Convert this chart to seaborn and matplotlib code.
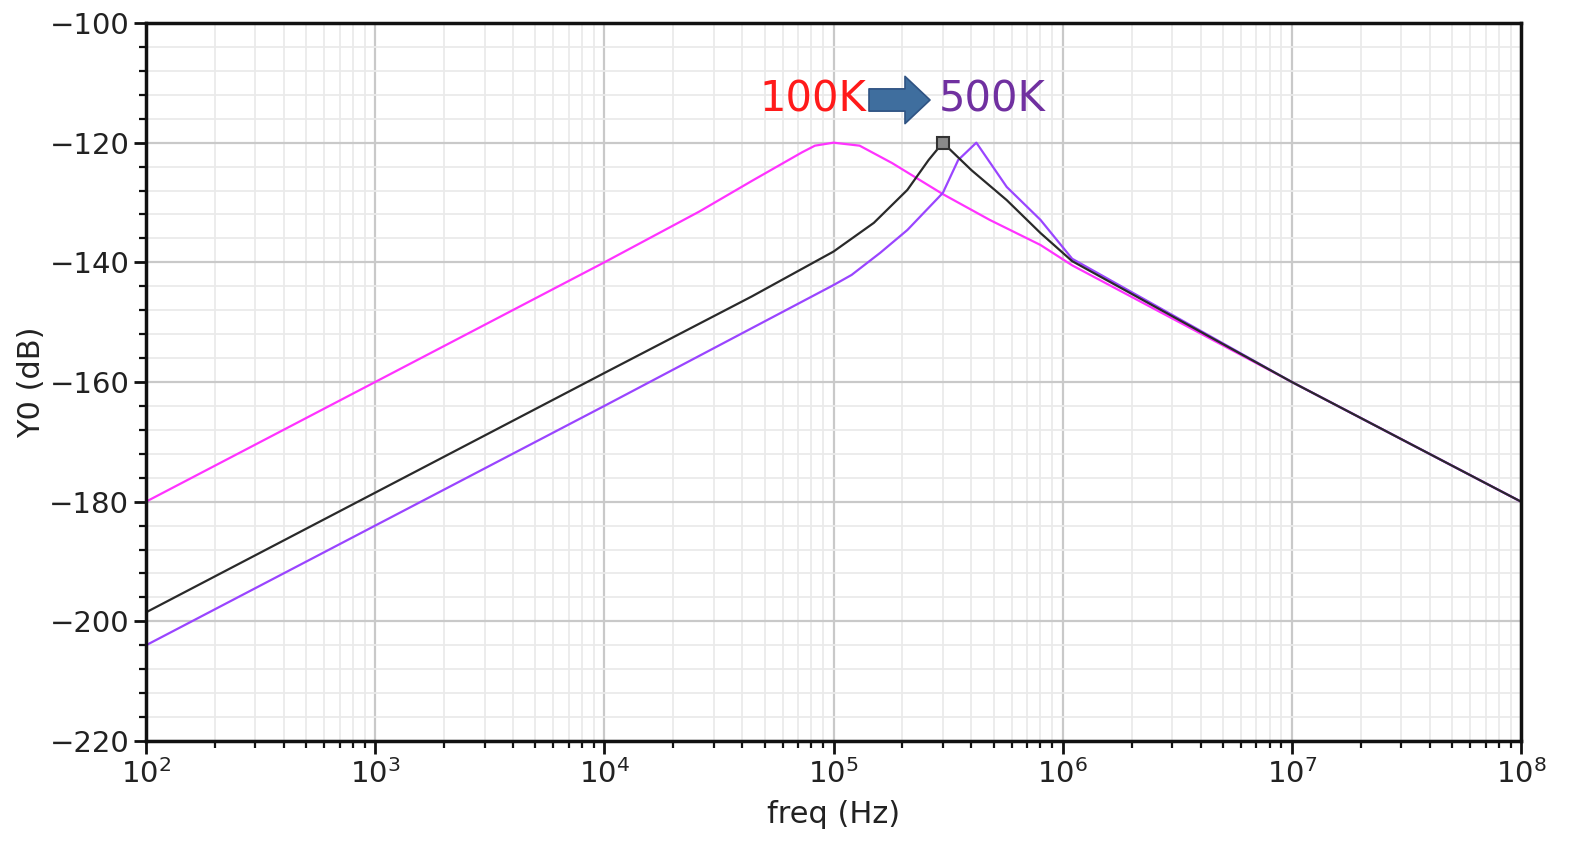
import numpy as np
import pandas as pd
import matplotlib
matplotlib.use("Agg")
import matplotlib.pyplot as plt
import matplotlib.ticker as mticker
import seaborn as sns

# ---- data ----
freq_100k = [1e2, 1e3, 1e4, 2.6e4, 4.4e4, 7.3e4, 8.3e4, 1e5, 1.3e5, 1.8e5, 3e5, 4.8e5, 8e5, 1.1e6, 1e7, 1e8]
db_100k = [-180, -160, -140, -131.5, -126.4, -121.6, -120.5, -120, -120.5, -123.4, -128.6, -132.9, -137.1, -140.5, -160, -180]

freq_300k = [1e2, 1e3, 1e4, 4.4e4, 1e5, 1.5e5, 2.1e5, 2.6e5, 3e5, 4e5, 5.7e5, 8e5, 1.1e6, 1e7, 1e8]
db_300k = [-198.5, -178.5, -158.5, -145.7, -138.2, -133.4, -127.9, -122.9, -120, -124.6, -129.6, -135.1, -139.8, -160, -180]

freq_500k = [1e2, 1e3, 1e4, 1e5, 1.2e5, 1.6e5, 2.1e5, 3e5, 3.5e5, 4.2e5, 5.7e5, 8e5, 1.1e6, 1e7, 1e8]
db_500k = [-204, -184, -164, -143.8, -142.1, -138.4, -134.6, -128.4, -122.9, -120, -127.4, -132.9, -139.4, -160, -180]

series_names = ["100K", "300K", "500K"]
series_colors = ["#ff33ff", "#2a2a2a", "#9a45ff"]
draw_order = ["100K", "500K", "300K"]
peak_marker = (3e5, -120)

xticks = [1e2, 1e3, 1e4, 1e5, 1e6, 1e7, 1e8]
yticks = [-100, -120, -140, -160, -180, -200, -220]

df = pd.concat([
    pd.DataFrame({"freq": freq_100k, "db": db_100k, "series": series_names[0]}),
    pd.DataFrame({"freq": freq_300k, "db": db_300k, "series": series_names[1]}),
    pd.DataFrame({"freq": freq_500k, "db": db_500k, "series": series_names[2]}),
], ignore_index=True)

sns.set_style("white")
plt.rcParams['font.family'] = ['DejaVu Sans']

fig = plt.figure(figsize=(15.74, 8.42), dpi=100)
ax = fig.add_axes([146/1574, 1-741/842, (1521-146)/1574, (741-23)/842])

sns.lineplot(data=df, x="freq", y="db", hue="series", hue_order=draw_order,
             palette=dict(zip(series_names, series_colors)),
             ax=ax, legend=False, linewidth=1.6, sort=False, estimator=None)

ax.set_xscale("log")
ax.set_xlim(1e2, 1e8)
ax.set_ylim(-220, -100)
ax.set_xticks(xticks)
ax.xaxis.set_major_formatter(mticker.LogFormatterMathtext())
ax.xaxis.set_minor_locator(mticker.LogLocator(base=10, subs=np.arange(2, 10), numticks=100))
ax.xaxis.set_minor_formatter(mticker.NullFormatter())
ax.set_yticks(yticks)
ax.yaxis.set_minor_locator(mticker.MultipleLocator(4))

ax.grid(which="major", color="#c9c9c9", linewidth=1.6)
ax.grid(which="minor", color="#eaeaea", linewidth=1.3)
ax.set_axisbelow(True)

for s in ax.spines.values():
    s.set_color("#111111")
    s.set_linewidth(2.5)
    s.set_visible(True)

ax.tick_params(axis="both", which="major", direction="out", length=9, width=2, color="#111111",
               labelsize=21, labelcolor="#222222", left=True, bottom=True)
ax.tick_params(axis="both", which="minor", direction="out", length=5, width=1.6, color="#111111",
               left=True, bottom=True)
ax.tick_params(axis="y", pad=3)
ax.tick_params(axis="x", pad=4)

ax.set_xlabel("freq (Hz)", fontsize=22, color="#222222", labelpad=8)
ax.set_ylabel("Y0 (dB)", fontsize=22, color="#222222", labelpad=2)

# peak marker on the middle curve
ax.plot([peak_marker[0]], [peak_marker[1]], marker="s", markersize=8, markerfacecolor="#8a8a8a",
        markeredgecolor="#333333", markeredgewidth=1.5, linestyle="none", zorder=5)

# annotation: 100K -> 500K
fig.text(813/1574, 1-100/842, "100K", color="#ff1a1a", fontsize=30, ha="center", va="center")
fig.text(992/1574, 1-100/842, "500K", color="#7030a0", fontsize=30, ha="center", va="center")
ax.annotate("", xy=(930, 842-100), xytext=(869, 842-100), xycoords="figure pixels", textcoords="figure pixels",
            arrowprops=dict(arrowstyle="simple,head_length=0.9,head_width=1.7,tail_width=0.8",
                            fc="#3f6e9e", ec="#2f5383", lw=1.2, mutation_scale=20,
                            shrinkA=0, shrinkB=0))

fig.savefig("out.png", dpi=100)
